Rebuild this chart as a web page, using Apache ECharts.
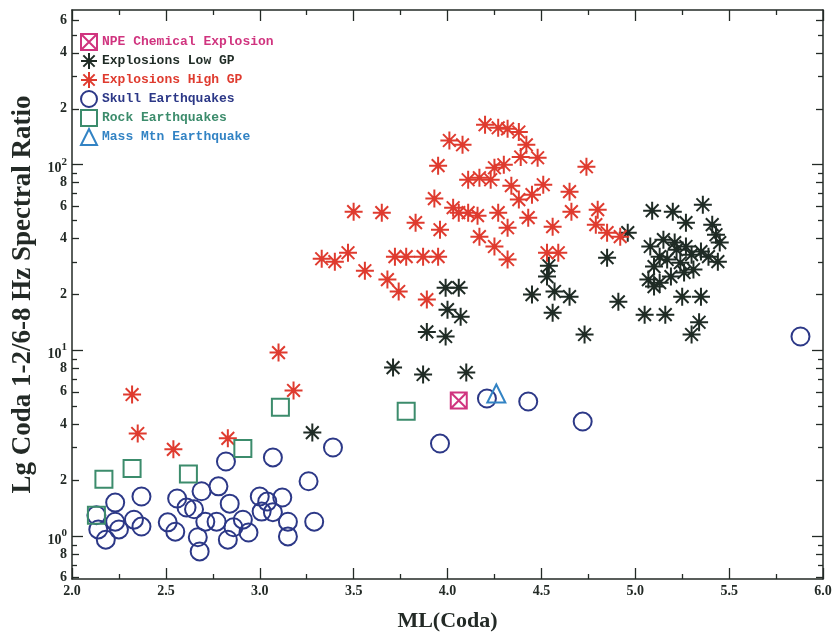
<!DOCTYPE html>
<html>
<head>
<meta charset="utf-8">
<script src="https://cdn.jsdelivr.net/npm/echarts@6/dist/echarts.min.js"></script>
<style>
  html, body { margin: 0; padding: 0; background: #ffffff; }
  #chart { width: 835px; height: 637px; }
</style>
</head>
<body>
<div id="chart"></div>
<script>
// Each event: [ML(Coda), Lg coda 1-2/6-8 Hz spectral ratio]
const npeExplosion = [[4.06, 5.39]];

const explosionsLowGP = [
  [3.28, 3.62], [3.71, 8.1], [3.87, 7.43], [4.10, 7.62], [3.89, 12.6], [3.99, 11.9],
  [4.00, 16.6], [4.07, 15.2], [3.99, 21.8], [4.06, 21.8],
  [4.45, 20.0], [4.57, 20.8], [4.65, 19.5], [4.56, 16.0], [4.73, 12.2], [4.53, 25.0], [4.54, 28.6],
  [4.85, 31.6], [4.91, 18.3], [4.96, 43.1], [5.09, 56.6], [5.20, 55.9], [5.36, 60.9],
  [5.27, 48.8], [5.41, 47.6], [5.43, 42.0], [5.45, 38.1], [5.44, 30.1],
  [5.08, 36.3], [5.15, 39.5], [5.21, 38.1], [5.27, 36.3], [5.30, 32.8], [5.24, 29.7],
  [5.17, 30.9], [5.10, 28.3], [5.07, 24.1], [5.13, 23.2], [5.19, 25.0], [5.26, 26.3],
  [5.31, 27.3], [5.13, 32.0], [5.35, 34.1], [5.39, 32.0], [5.22, 34.9], [5.10, 22.1],
  [5.25, 19.5], [5.35, 19.5], [5.05, 15.6], [5.16, 15.6], [5.34, 14.2], [5.30, 12.2]
];

const explosionsHighGP = [
  [2.32, 5.8], [2.35, 3.58], [2.54, 2.94], [2.83, 3.37], [3.10, 9.75], [3.18, 6.1],
  [3.33, 31.2], [3.40, 30.1], [3.47, 33.6], [3.56, 26.9], [3.50, 55.9], [3.65, 55.2],
  [3.83, 48.8], [3.93, 65.7], [3.95, 98.8],
  [4.01, 135], [4.08, 128], [4.20, 164], [4.27, 158], [4.32, 156], [4.38, 150],
  [4.42, 128], [4.39, 110], [4.48, 109], [4.30, 100], [4.25, 96.3],
  [4.11, 83.0], [4.17, 85.1], [4.23, 83.0], [4.34, 77.1], [4.51, 78.0], [4.45, 69.0],
  [4.38, 64.9], [4.65, 71.6], [4.66, 55.9], [4.74, 97.5],
  [4.80, 57.3], [4.79, 47.6], [4.85, 43.1], [4.92, 41.0], [4.56, 46.4], [4.43, 51.9],
  [4.32, 45.8], [4.27, 55.2], [4.03, 58.7], [4.06, 55.2], [4.11, 55.2], [4.16, 53.2],
  [3.96, 44.7], [4.17, 41.0], [4.25, 36.3], [4.32, 30.9], [4.53, 33.6], [4.59, 33.6],
  [3.72, 32.0], [3.78, 32.0], [3.87, 32.0], [3.95, 32.0], [3.68, 24.1], [3.74, 20.8], [3.89, 18.8]
];

const skullQuakes = [
  [2.13, 1.30], [2.23, 1.52], [2.37, 1.64], [2.23, 1.20], [2.14, 1.09], [2.18, 0.96],
  [2.25, 1.09], [2.33, 1.23], [2.37, 1.13],
  [2.56, 1.60], [2.51, 1.19], [2.55, 1.06], [2.61, 1.43], [2.65, 1.40], [2.69, 1.75],
  [2.71, 1.20], [2.67, 0.99], [2.68, 0.83],
  [2.78, 1.86], [2.77, 1.20], [2.84, 1.50], [2.82, 2.53], [2.91, 1.23], [2.86, 1.12],
  [2.83, 0.96], [2.94, 1.05],
  [3.00, 1.64], [3.01, 1.36], [3.07, 1.35], [3.04, 1.54], [3.12, 1.62], [3.07, 2.66],
  [3.15, 1.20], [3.15, 1.00], [3.26, 1.98], [3.29, 1.20], [3.39, 3.01],
  [3.96, 3.16], [4.21, 5.52], [4.43, 5.32], [4.72, 4.15], [5.88, 11.9]
];

const rockQuakes = [
  [2.13, 1.30], [2.17, 2.03], [2.32, 2.32], [2.62, 2.17], [2.91, 2.97], [3.11, 4.96], [3.78, 4.72]
];

const massMtnQuake = [[4.26, 5.87]];

// Axis extents and tick positions
const xRange = [2.0, 6.0];
const yRange = [0.59, 680];
const yDecadeTicks = [1, 10, 100];
const yLabelTicks = [0.6, 0.8, 1, 2, 4, 6, 8, 10, 20, 40, 60, 80, 100, 200, 400, 600];
const yMantissaTicks = [0.6, 0.8, 2, 4, 6, 8, 20, 40, 60, 80, 200, 400, 600];
const yMinorTicks = [0.7, 0.9, 3, 5, 7, 9, 30, 50, 70, 90, 300, 500];

const INK = '#232a26';
const SERIF = '"Liberation Serif", "DejaVu Serif", serif';
const MONO = '"Liberation Mono", "DejaVu Sans Mono", monospace';

const ASTERISK = 'path://M10,0L10,20M0,10L20,10M2.93,2.93L17.07,17.07M17.07,2.93L2.93,17.07';
const BOXED_X = 'path://M0,0L20,0L20,20L0,20ZM0,0L20,20M20,0L0,20';

const groups = [
  { name: 'NPE Chemical Explosion', data: npeExplosion, symbol: BOXED_X, size: 16, color: '#d0347f' },
  { name: 'Explosions Low GP', data: explosionsLowGP, symbol: ASTERISK, size: 18, color: '#1f2b25' },
  { name: 'Explosions High GP', data: explosionsHighGP, symbol: ASTERISK, size: 18, color: '#df3b2f' },
  { name: 'Skull Earthquakes', data: skullQuakes, symbol: 'circle', size: 18, color: '#2c3887' },
  { name: 'Rock Earthquakes', data: rockQuakes, symbol: 'rect', size: 17, color: '#3c8c6c' },
  { name: 'Mass Mtn Earthquake', data: massMtnQuake, symbol: 'triangle', size: 18, color: '#3283c4' }
];

function yLabel(v) {
  const e = Math.floor(Math.log10(v) + 1e-9);
  const m = Math.round(v / Math.pow(10, e));
  return m === 1 ? '{b|10}{s|' + e + '}' : '{m|' + m + '}';
}

function logAxis(position, opts) {
  return Object.assign({
    type: 'log',
    logBase: 10,
    position: position,
    min: yRange[0],
    max: yRange[1],
    splitLine: { show: false },
    axisLine: { show: false },
    axisLabel: { show: false },
    axisTick: { show: false }
  }, opts);
}

function tickAxis(values, len) {
  return { show: true, inside: true, length: len, customValues: values, lineStyle: { color: INK, width: 1.3 } };
}

const yAxes = [];
['left', 'right'].forEach(function (pos) {
  yAxes.push(logAxis(pos, {
    axisLine: { show: true, lineStyle: { color: INK, width: 1.5 } },
    axisTick: tickAxis(yDecadeTicks, 11)
  }));
  yAxes.push(logAxis(pos, { axisTick: tickAxis(yMantissaTicks, 7) }));
  yAxes.push(logAxis(pos, { axisTick: tickAxis(yMinorTicks, 5) }));
});
// tick labels and title on the left-hand axis
yAxes[0].axisLabel = {
  show: true,
  customValues: yLabelTicks,
  margin: 5,
  color: INK,
  fontFamily: SERIF,
  fontWeight: 'bold',
  formatter: yLabel,
  rich: {
    b: { fontFamily: SERIF, fontWeight: 'bold', fontSize: 14, color: INK, padding: [8, 0, 0, 0] },
    s: { fontFamily: SERIF, fontWeight: 'bold', fontSize: 11, color: INK, padding: [0, 0, 6, 0] },
    m: { fontFamily: SERIF, fontWeight: 'bold', fontSize: 14, color: INK }
  }
};
yAxes[0].name = 'Lg Coda 1-2/6-8 Hz Spectral Ratio';
yAxes[0].nameLocation = 'middle';
yAxes[0].nameGap = 34;
yAxes[0].nameTextStyle = { fontFamily: SERIF, fontWeight: 'bold', fontSize: 27, color: INK };

function xAxisFor(position, withLabels) {
  return {
    type: 'value',
    position: position,
    min: xRange[0],
    max: xRange[1],
    interval: 0.5,
    splitLine: { show: false },
    axisLine: { show: true, onZero: false, lineStyle: { color: INK, width: 1.5 } },
    axisTick: { show: true, inside: true, length: 11, lineStyle: { color: INK, width: 1.3 } },
    minorTick: { show: true, splitNumber: 2, length: 5, lineStyle: { color: INK, width: 1.3 } },
    axisLabel: withLabels ? {
      show: true, margin: 5, color: INK, fontFamily: SERIF, fontWeight: 'bold', fontSize: 14,
      formatter: function (v) { return v.toFixed(1); }
    } : { show: false },
    name: withLabels ? 'ML(Coda)' : '',
    nameLocation: 'middle',
    nameGap: 31,
    nameTextStyle: { fontFamily: SERIF, fontWeight: 'bold', fontSize: 22, color: INK }
  };
}

const chart = echarts.init(document.getElementById('chart'), null, { renderer: 'canvas' });

chart.setOption({
  animation: false,
  backgroundColor: '#ffffff',
  grid: { left: 72, right: 12, top: 10, bottom: 58, containLabel: false, outerBoundsMode: 'none' },
  legend: {
    orient: 'vertical',
    left: 75,
    top: 28,
    itemWidth: 16,
    itemHeight: 16,
    itemGap: 1,
    selectedMode: false,
    textStyle: { fontFamily: MONO, fontWeight: 'bold', fontSize: 13 },
    data: groups.map(function (g) {
      return { name: g.name, icon: g.symbol, textStyle: { color: g.color } };
    })
  },
  xAxis: [xAxisFor('bottom', true), xAxisFor('top', false)],
  yAxis: yAxes,
  series: groups.map(function (g) {
    return {
      name: g.name,
      type: 'scatter',
      data: g.data,
      symbol: g.symbol,
      symbolSize: g.size,
      xAxisIndex: 0,
      yAxisIndex: 0,
      silent: true,
      itemStyle: { color: 'transparent', borderColor: g.color, borderWidth: 2, opacity: 1 },
      emphasis: { disabled: true }
    };
  })
});
</script>
</body>
</html>
